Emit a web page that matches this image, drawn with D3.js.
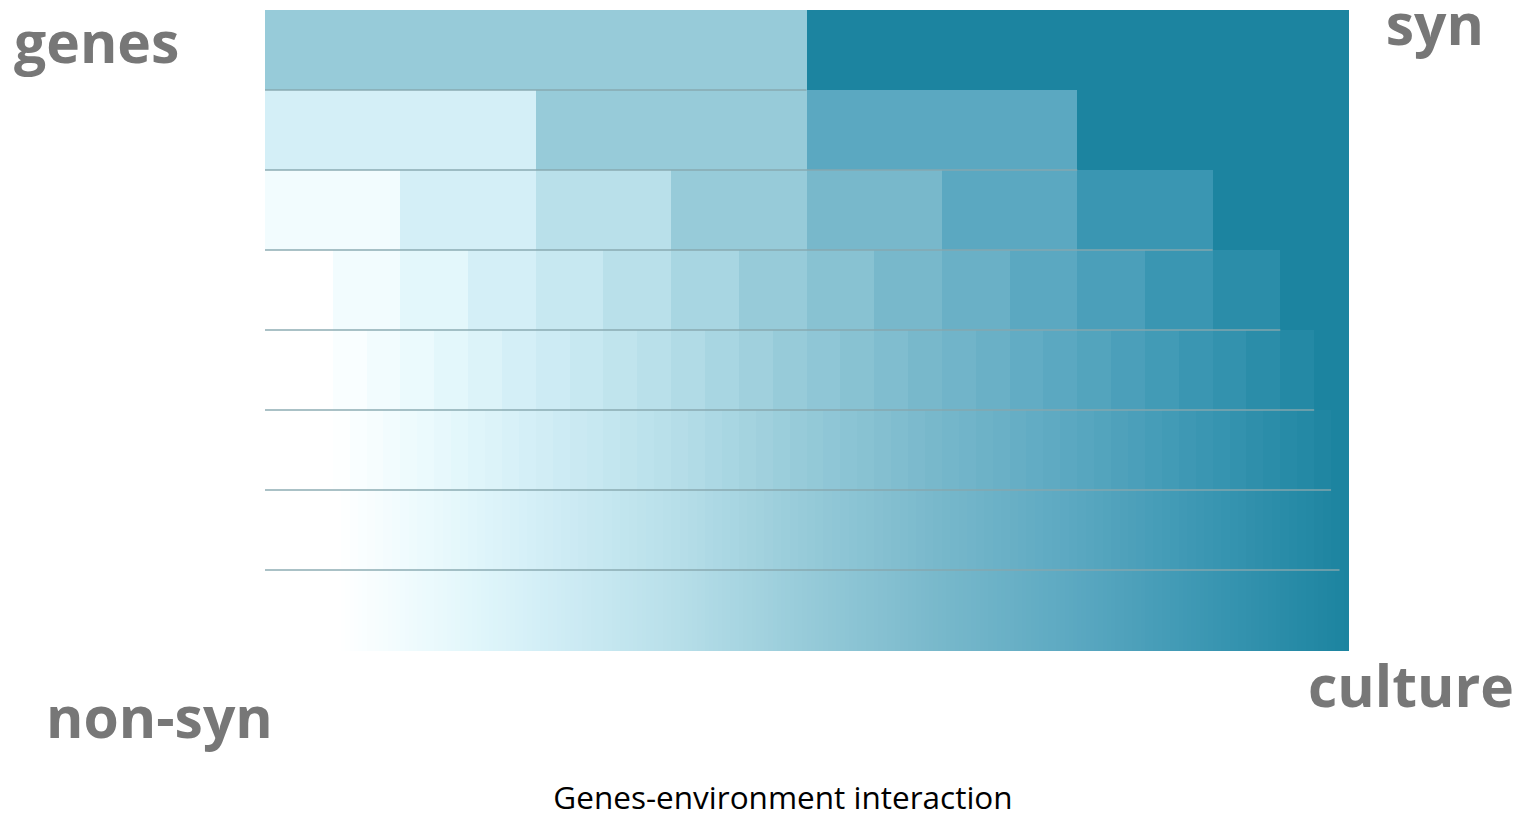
<!DOCTYPE html>
<html>
<head>
<meta charset="utf-8">
<script src="https://cdn.jsdelivr.net/npm/d3@7"></script>
<style>
  body { margin: 0; background: #fff; }
  .corner { font-family: "Open Sans", sans-serif; font-weight: 700; fill: #777; }
  .title { font-family: "Open Sans", sans-serif; fill: #000; }
</style>
</head>
<body>
<svg id="chart" width="1528" height="824"></svg>
<script>
// number of cells in each row, top to bottom
const rowCells = [2, 4, 8, 16, 32, 64, 128, 256];
// colour stops (level 0..1)
const levelStops = [0, 0.07, 0.125, 0.1875, 0.25, 0.375, 0.5, 0.625, 0.75, 0.875, 1];
const colorStops = ["#ffffff", "#ffffff", "#f2fcfe", "#e3f7fb", "#d4eff7", "#b9e0ea",
  "#97cbd9", "#78b8cb", "#5ba8c1", "#3a96b2", "#1c84a0"];
const cornerLabels = ["genes", "syn", "non-syn", "culture"];
const titleText = "Genes-environment interaction";

const svg = d3.select("#chart");
const margin = { top: 10, left: 265, right: 180, bottom: 174 };
const width = +svg.attr("width") - margin.left - margin.right;
const height = +svg.attr("height") - margin.top - margin.bottom;
const g = svg.append("g").attr("transform", `translate(${margin.left},${margin.top})`);

const x = d3.scaleLinear().domain([0, 1]).range([0, width]);
const y = d3.scaleBand().domain(d3.range(rowCells.length)).range([0, height]);
const color = d3.scaleLinear().domain(levelStops).range(colorStops);

// each row split into n equal cells, cell i gets level (i+1)/n
const cells = rowCells.flatMap((n, r) =>
  d3.range(n).map(i => ({ row: r, x0: i / n, x1: (i + 1) / n, level: (i + 1) / n })));

g.selectAll("rect.cell")
  .data(cells)
  .join("rect")
  .attr("class", "cell")
  .attr("x", d => x(d.x0))
  .attr("y", d => y(d.row))
  .attr("width", d => x(d.x1) - x(d.x0) + 0.6)
  .attr("height", y.bandwidth() + 0.5)
  .attr("fill", d => color(d.level))
  .attr("shape-rendering", "crispEdges");

// thin rule under each row, stopping where the darkest cell begins
g.selectAll("line.sep")
  .data(rowCells.slice(0, -1))
  .join("line")
  .attr("class", "sep")
  .attr("x1", 0)
  .attr("x2", n => x((n - 1) / n))
  .attr("y1", (n, r) => y(r) + y.bandwidth())
  .attr("y2", (n, r) => y(r) + y.bandwidth())
  .attr("stroke", "#86a7ae")
  .attr("stroke-opacity", 0.7)
  .attr("stroke-width", 2);

const labelPos = [
  { x: 14, y: 63, anchor: "start" },
  { x: 1484, y: 45, anchor: "end" },
  { x: 46, y: 738, anchor: "start" },
  { x: 1514, y: 707, anchor: "end" }
];
svg.selectAll("text.corner")
  .data(cornerLabels)
  .join("text")
  .attr("class", "corner")
  .attr("x", (d, i) => labelPos[i].x)
  .attr("y", (d, i) => labelPos[i].y)
  .attr("text-anchor", (d, i) => labelPos[i].anchor)
  .attr("font-size", 57)
  .text(d => d);

svg.append("text")
  .attr("class", "title")
  .attr("x", 783)
  .attr("y", 809)
  .attr("text-anchor", "middle")
  .attr("font-size", 31.5)
  .text(titleText);
</script>
</body>
</html>
